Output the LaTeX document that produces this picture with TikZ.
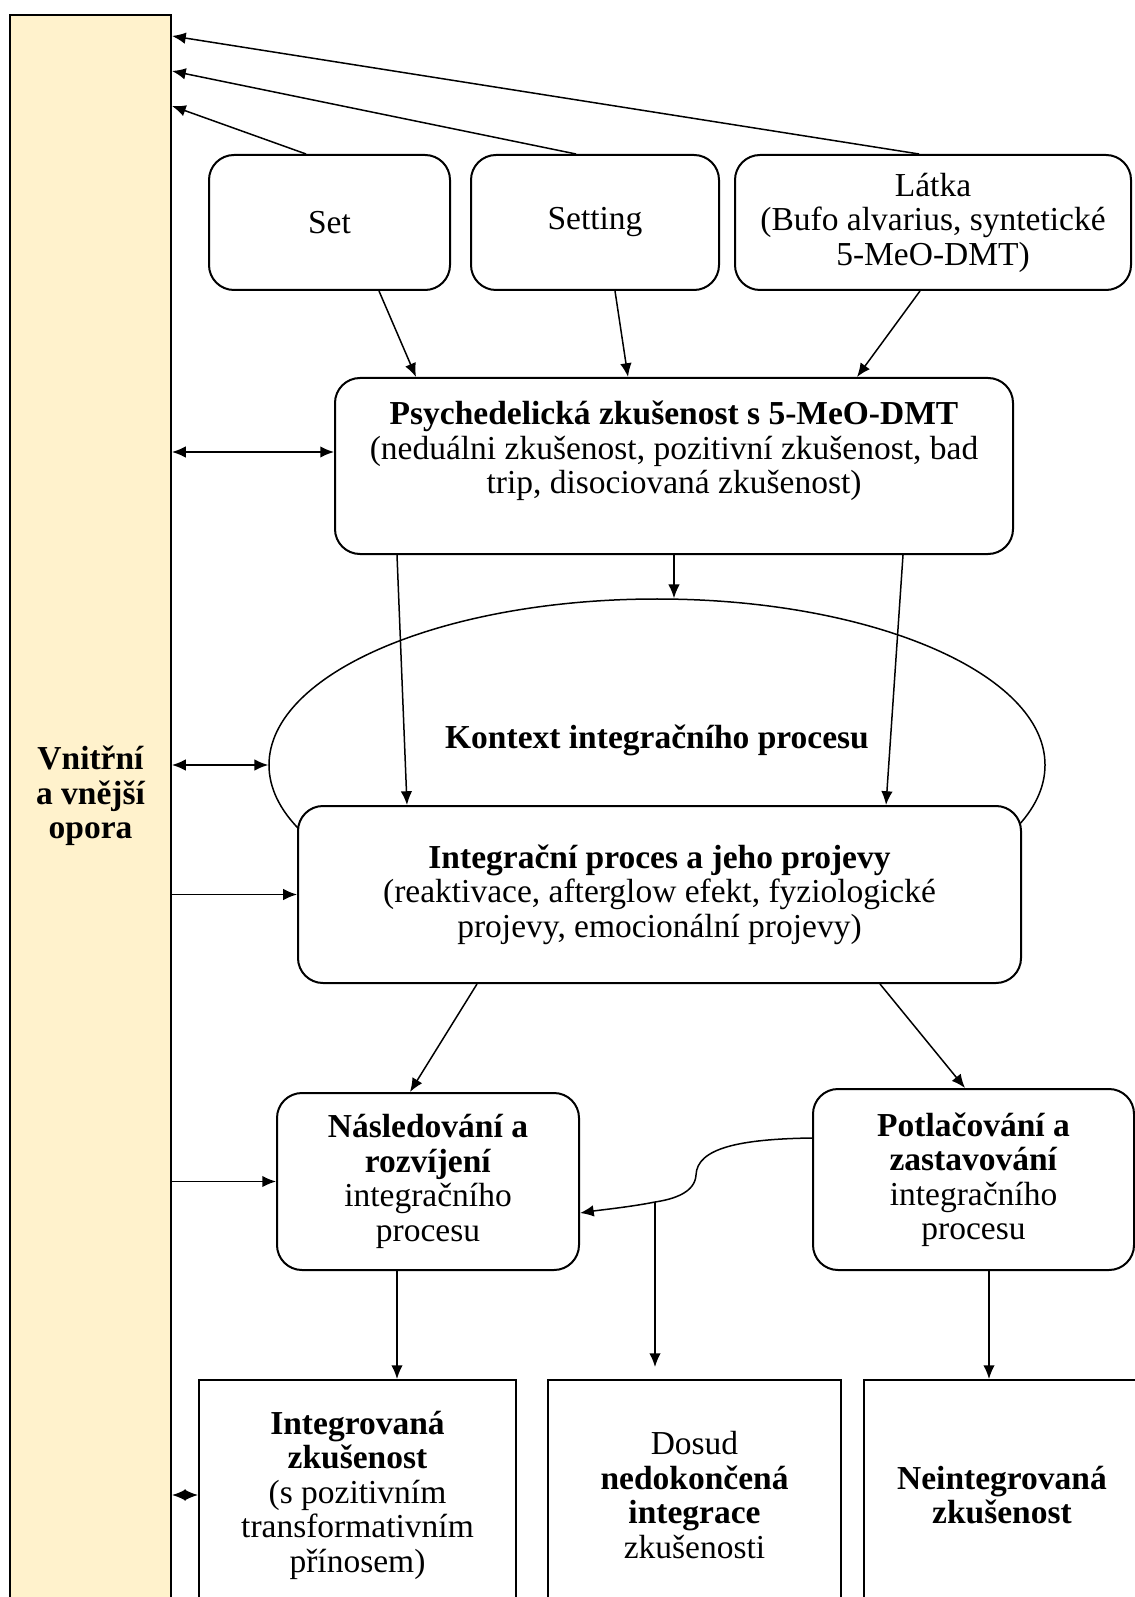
\documentclass[tikz,border=0pt]{standalone}
\usepackage{fontspec}
\setmainfont{Liberation Serif}
\usetikzlibrary{shapes.geometric,arrows.meta,calc}
\definecolor{supp}{HTML}{FFF2CC}

\begin{document}
\begin{tikzpicture}[x=0.4pt, y=-0.4pt,
  every node/.style={font=\fontsize{13.4}{13.8}\selectfont, align=center},
  rbox/.style={draw, line width=0.8pt, rounded corners=10pt, fill=white, minimum height=54pt},
  sqbox/.style={draw, line width=0.8pt, fill=white, minimum height=92pt},
  arr/.style={line width=0.6pt, -{Latex[length=5.5pt,width=4.6pt]}},
  darr/.style={line width=0.6pt, {Latex[length=5.5pt,width=4.6pt]}-{Latex[length=5.5pt,width=4.6pt]}}]
\useasboundingbox (0,0) rectangle (1134,1597);

% Support bar
\node[draw, line width=0.8pt, fill=supp, minimum width=64.4pt, minimum height=638pt, inner sep=0pt] (bar) at (90.5,812.5) {};
\node[font=\fontsize{13.4}{13.8}\selectfont\bfseries] (bartxt) at (90.5,796) {Vnitřní\\a vnější\\opora};

% Top row
\node[rbox, minimum width=96.4pt] (set) at (329.5,222.5) {Set};
\node[rbox, minimum width=99.2pt] (setting) at (595,222.5) {Setting};
\node[rbox, minimum width=158.4pt] (latka) at (933,222.5) {Látka\\(Bufo alvarius, syntetické\\5-MeO-DMT)};

% Experience
\node[rbox, minimum width=271.2pt, minimum height=70.4pt] (psych) at (674,466) {};
\node (psychtxt) at (674,451) {\textbf{Psychedelická zkušenost s 5-MeO-DMT}\\(neduálni zkušenost, pozitivní zkušenost, bad\\trip, disociovaná zkušenost)};

% Context
\node[ellipse, draw, line width=0.6pt, minimum width=310.4pt, minimum height=132.8pt] (ctx) at (657,765) {};
\node (ctxtxt) at (657,740) {\textbf{Kontext integračního procesu}};

% Integration
\node[rbox, minimum width=289.2pt, minimum height=70.8pt] (integ) at (659.5,894.5) {\textbf{Integrační proces a jeho projevy}\\(reaktivace, afterglow efekt, fyziologické\\projevy, emocionální projevy)};

% Ways
\node[rbox, minimum width=120.8pt, minimum height=70.8pt] (nasl) at (428,1181.5) {\textbf{Následování a}\\\textbf{rozvíjení}\\integračního\\procesu};
\node[rbox, minimum width=128.4pt, minimum height=72.4pt] (potl) at (973.5,1179.5) {\textbf{Potlačování a}\\\textbf{zastavování}\\integračního\\procesu};

% Outcomes
\node[sqbox, minimum width=126.8pt] (integr) at (357.5,1495) {\textbf{Integrovaná}\\\textbf{zkušenost}\\(s pozitivním\\transformativním\\přínosem)};
\node[sqbox, minimum width=117.2pt] (dosud) at (694.5,1495) {Dosud\\\textbf{nedokončená}\\\textbf{integrace}\\zkušenosti};
\node[sqbox, minimum width=110.4pt] (neint) at (1002,1495) {\textbf{Neintegrovaná}\\\textbf{zkušenost}};

% Back to the support
\coordinate (s1) at ($(bar.north east)+(0,22)$);
\coordinate (s2) at ($(bar.north east)+(0,57)$);
\coordinate (s3) at ($(bar.north east)+(0,92)$);
\draw[arr] ($(latka.north)+(-14,0)$) -- (s1);
\draw[arr] ($(setting.north)+(-19,0)$) -- (s2);
\draw[arr] ($(set.north)+(-23.5,0)$) -- (s3);

% Into the experience
\draw[arr] ($(set.south)+(49.5,0)$) -- ($(psych.north)+(-258,0)$);
\draw[arr] ($(setting.south)+(20,0)$) -- ($(psych.north)+(-46,0)$);
\draw[arr] ($(latka.south)+(-13,0)$) -- ($(psych.north)+(183,0)$);

% Support links
\coordinate (pw) at ($(psych.west)+(0,-14)$);
\draw[darr] (bar.east |- pw) -- (pw);
\draw[darr] (bar.east |- ctx.west) -- (ctx.west);
\draw[arr] (bar.east |- integ.west) -- (integ.west);
\draw[arr] (bar.east |- nasl.west) -- (nasl.west);
\draw[darr] (bar.east |- integr.west) -- (integr.west);

% Down the middle
\draw[arr] (psych.south) -- (psych.south |- ctx.north);
\draw[arr] ($(psych.south)+(-277,0)$) -- ($(integ.north)+(-252.5,0)$);
\draw[arr] ($(psych.south)+(229,0)$) -- ($(integ.north)+(226.5,0)$);
\draw[arr] ($(integ.south)+(-182.5,0)$) -- ($(nasl.north)+(-18,0)$);
\draw[arr] ($(integ.south)+(220.5,0)$) -- ($(potl.north)+(-8.5,0)$);

% Potlacovani back to Nasledovani
\coordinate (split) at (655,1202);
\draw[arr] ($(potl.west)+(0,-41.5)$) .. controls (740,1139) and (697,1148) .. (696,1175)
  .. controls (695,1192) and (675,1199) .. (split)
  .. controls (630,1207) and (600,1210) .. ($(nasl.east)+(0,31.5)$);
\draw[arr] (split) -- ++(0,165);

% Outcomes
\draw[arr] ($(nasl.south)+(-31,0)$) -- ($(integr.north)+(39.5,0)$);
\draw[arr] ($(potl.south)+(15.5,0)$) -- ($(neint.north)+(-13,0)$);
\end{tikzpicture}
\end{document}
